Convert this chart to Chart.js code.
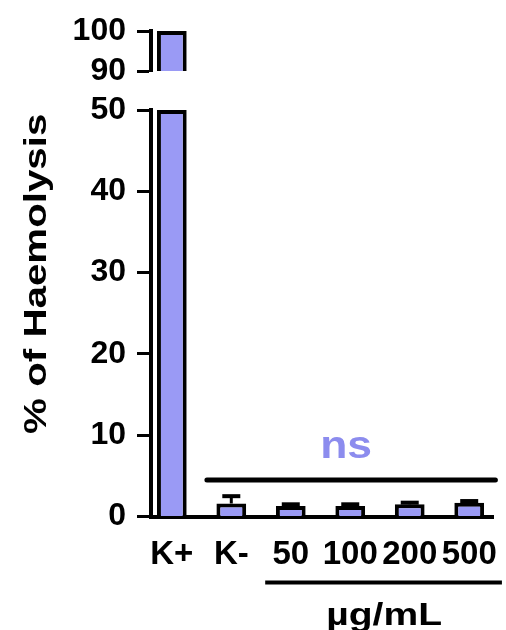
<!DOCTYPE html>
<html>
<head>
<meta charset="utf-8">
<script src="https://cdn.jsdelivr.net/npm/chart.js@4.4.1/dist/chart.umd.min.js"></script>
<style>
  html, body { margin: 0; padding: 0; background: #fff; }
</style>
</head>
<body>
<canvas id="haemChart" width="506" height="630"></canvas>
<script>
// groups on the x axis and measured % haemolysis (mean, sem)
const groups = ['K+', 'K-', '50', '100', '200', '500'];
const haemolysis = [100, 1.6, 1.3, 1.3, 1.5, 1.7];
const sem = [0, 0.9, 0.2, 0.2, 0.2, 0.2];

// broken y axis: lower part and upper part
const lowTicks = [0, 10, 20, 30, 40, 50];
const highTicks = [90, 100];

const yTitle = '% of Haemolysis';
const unitLabel = 'µg/mL';
const sigLabel = 'ns';
const sigLevel = 4.5;

const barFill = '#9a9af5';
const sigColor = '#8c8cee';
const fontFamily = "'Liberation Sans', Arial, Helvetica, sans-serif";

const lowMin = lowTicks[0], lowMax = lowTicks[lowTicks.length - 1];
const highMin = highTicks[0], highMax = highTicks[highTicks.length - 1];

Chart.defaults.font.family = fontFamily;
Chart.defaults.font.weight = 'bold';
Chart.defaults.color = '#000';

const axisWidth = 151;
const fixWidth = function (scale) { scale.width = axisWidth; };

// the original figure uses a wide bold face, so stretch text a little
function wideText(ctx, text, x, y, size, stretch, rotate) {
    ctx.save();
    ctx.translate(x, y);
    if (rotate) ctx.rotate(-Math.PI / 2);
    ctx.scale(stretch, 1);
    ctx.font = 'bold ' + size + 'px ' + fontFamily;
    ctx.textAlign = 'center';
    ctx.fillText(text, 0, 0);
    ctx.restore();
}

// error bars, "ns" bracket, y title and the concentration label under the axis
const markings = {
    id: 'markings',
    afterDatasetsDraw(chart) {
        const { ctx, chartArea } = chart;
        const x = chart.scales.x;
        const y = chart.scales.y;
        const yTop = chart.scales.yTop;
        ctx.save();

        ctx.strokeStyle = '#000';
        haemolysis.forEach(function (v, i) {
            if (!sem[i] || v > lowMax) return;
            const px = x.getPixelForValue(i);
            const base = y.getPixelForValue(v);
            const top = y.getPixelForValue(v + sem[i]);
            ctx.lineWidth = 3;
            ctx.beginPath();
            ctx.moveTo(px, base);
            ctx.lineTo(px, top);
            ctx.stroke();
            ctx.lineWidth = 4;
            ctx.beginPath();
            ctx.moveTo(px - 9, top);
            ctx.lineTo(px + 9, top);
            ctx.stroke();
        });

        // significance bar
        const lineY = y.getPixelForValue(sigLevel);
        ctx.lineWidth = 5;
        ctx.lineCap = 'round';
        ctx.beginPath();
        ctx.moveTo(x.getPixelForValue(0.59), lineY);
        ctx.lineTo(x.getPixelForValue(5.44), lineY);
        ctx.stroke();

        ctx.textBaseline = 'alphabetic';
        ctx.fillStyle = sigColor;
        wideText(ctx, sigLabel, x.getPixelForValue(2.93), lineY - 22, 38, 1.17, false);

        // underline for the concentration groups + unit
        const underY = chartArea.bottom + 66;
        ctx.lineCap = 'butt';
        ctx.lineWidth = 4;
        ctx.beginPath();
        ctx.moveTo(x.getPixelForValue(1.57), underY);
        ctx.lineTo(x.getPixelForValue(5.55), underY);
        ctx.stroke();

        ctx.fillStyle = '#000';
        wideText(ctx, unitLabel, x.getPixelForValue(3.57), chartArea.bottom + 108, 32, 1.22, false);

        // y axis title, centred on the whole broken axis
        ctx.textBaseline = 'middle';
        const midY = (yTop.top + y.bottom) / 2;
        wideText(ctx, yTitle, 37, midY, 31, 1.3, true);

        ctx.restore();
    }
};

const axisTicks = {
    stepSize: 10,
    padding: 11,
    autoSkip: false,
    color: '#000',
    font: { size: 32, weight: 'bold' }
};
const axisGrid = {
    drawOnChartArea: false,
    tickLength: 14,
    tickWidth: 3,
    tickColor: '#000'
};
const axisBorder = { display: true, color: '#000', width: 4 };

const barStyle = {
    grouped: false,
    categoryPercentage: 1,
    barPercentage: 0.5,
    borderWidth: 4,
    borderColor: '#000',
    backgroundColor: barFill
};

const ctx = document.getElementById('haemChart').getContext('2d');
const haemChart = new Chart(ctx, {
    type: 'bar',
    data: {
        datasets: [Object.assign({
            label: 'low',
            yAxisID: 'y',
            data: haemolysis.map(function (v, i) { return { x: i, y: Math.min(v, lowMax) }; })
        }, barStyle), Object.assign({
            label: 'high',
            yAxisID: 'yTop',
            data: haemolysis.map(function (v, i) { return { x: i, y: v > highMin ? Math.min(v, highMax) : null }; })
        }, barStyle)]
    },
    options: {
        responsive: false,
        animation: false,
        layout: { padding: { top: 31, right: 13, bottom: 51.5, left: 0 } },
        plugins: {
            legend: { display: false },
            tooltip: { enabled: false }
        },
        scales: {
            x: {
                type: 'linear',
                offset: false,
                min: -0.35,
                max: 5.4,
                grid: { display: false, drawTicks: false },
                border: axisBorder,
                ticks: {
                    stepSize: 1,
                    includeBounds: false,
                    autoSkip: false,
                    maxRotation: 0,
                    padding: 19,
                    color: '#000',
                    font: { size: 33, weight: 'bold' },
                    callback: function (v) { return groups[v] !== undefined ? groups[v] : ''; }
                },
                afterFit: function (scale) {
                    scale.height = 62;
                    scale.paddingLeft = 0;
                    scale.paddingRight = 0;
                }
            },
            y: {
                type: 'linear',
                stack: 'haem',
                stackWeight: 406.5,
                weight: 0,
                min: lowMin,
                max: lowMax,
                ticks: axisTicks,
                grid: axisGrid,
                border: axisBorder,
                afterFit: fixWidth
            },
            yGap: {
                type: 'linear',
                stack: 'haem',
                stackWeight: 39,
                weight: 1,
                min: 0,
                max: 1,
                ticks: { display: false },
                grid: { display: false },
                border: { display: false },
                afterFit: fixWidth
            },
            yTop: {
                type: 'linear',
                stack: 'haem',
                stackWeight: 40,
                weight: 2,
                min: highMin,
                max: highMax,
                ticks: axisTicks,
                grid: axisGrid,
                border: axisBorder,
                afterFit: fixWidth
            }
        }
    },
    plugins: [markings]
});
</script>
</body>
</html>
